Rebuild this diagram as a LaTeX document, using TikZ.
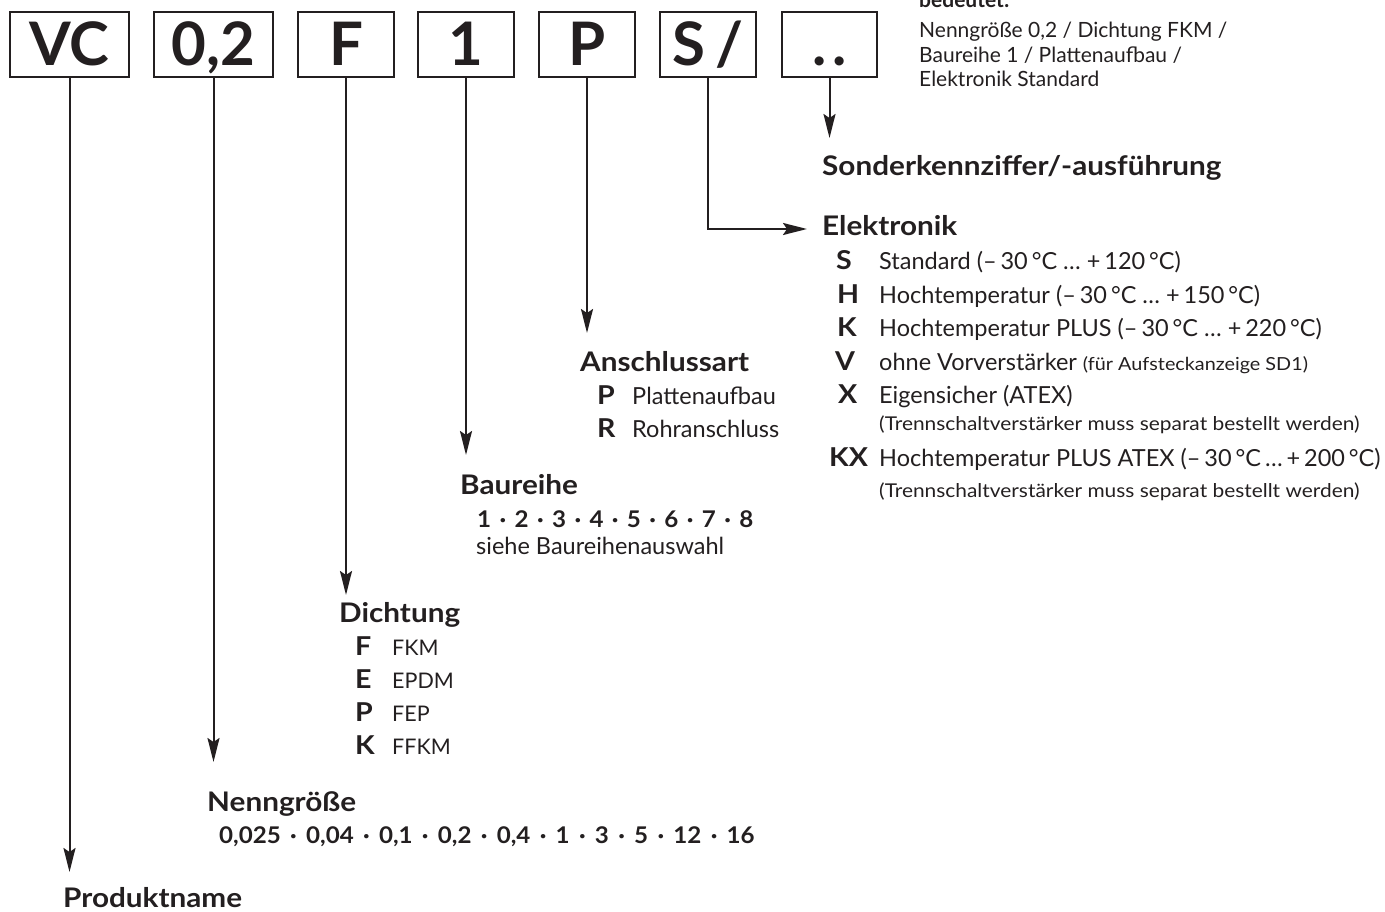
\documentclass[tikz,border=0pt]{standalone}
\usepackage{fontspec}
\setmainfont{Lato}
\newfontfamily\widefont{Lato}[FakeStretch=1.1]
\newfontfamily\semiwide{Lato}[FakeStretch=1.05]
\usetikzlibrary{arrows.meta}
\definecolor{ink}{HTML}{231F20}
\newcommand\sepdot{\hspace{9.3pt}·\hspace{9.3pt}}
\newcommand\sepdotb{\hspace{8.4pt}·\hspace{8.4pt}}
\begin{document}
\begin{tikzpicture}[x=1pt,y=-1pt,
  codebox/.style={draw=ink, text=ink, line width=2pt, minimum height=65pt, inner sep=0pt,
    text height=43pt, text depth=0pt, font=\bfseries\fontsize{60}{60}\selectfont},
  head/.style={anchor=base west, inner sep=0pt, text=ink, font=\widefont\bfseries\fontsize{27}{27}\selectfont},
  keyl/.style={anchor=base west, inner sep=0pt, text=ink, font=\widefont\bfseries\fontsize{26}{26}\selectfont},
  itemt/.style={anchor=base west, inner sep=0pt, text=ink, font=\fontsize{23.5}{23.5}\selectfont},
  dicht/.style={anchor=base west, inner sep=0pt, text=ink, font=\fontsize{21.5}{21.5}\selectfont},
  smallt/.style={anchor=base west, inner sep=0pt, text=ink, font=\widefont\fontsize{19}{19}\selectfont},
  valrow/.style={anchor=base west, inner sep=0pt, text=ink, font=\semiwide\bfseries\fontsize{23}{23}\selectfont},
  notet/.style={anchor=base west, inner sep=0pt, text=ink, font=\fontsize{21}{21}\selectfont},
  link/.style={draw=ink, line width=2pt, -{Stealth[length=24pt,width=12pt,inset=4pt]}}
]
\useasboundingbox (0,0) rectangle (1385,912);

% code boxes
\node[codebox, minimum width=119pt] (vc) at (69.5,44.5) {VC};
\node[codebox, minimum width=119pt] (nw) at (213.5,44.5) {0,2};
\node[codebox, minimum width=96pt] (dt) at (346,44.5) {F};
\node[codebox, minimum width=96pt] (br) at (466,44.5) {1};
\node[codebox, minimum width=96pt] (an) at (587,44.5) {P};
\node[codebox, minimum width=96pt] (el) at (708,44.5) {S\kern10pt/};
\node[codebox, minimum width=95pt] (sk) at (829.5,44.5) {.\kern5pt.};

% arrow end points
\coordinate (vcend) at (69.5,872);
\coordinate (nwend) at (213.5,762);
\coordinate (dtend) at (346,595);
\coordinate (brend) at (466,455);
\coordinate (anend) at (587,333);
\coordinate (elend) at (807,229);
\coordinate (skend) at (829.5,138);

\draw[link] (vc.south) -- (vcend);
\draw[link] (nw.south) -- (nwend);
\draw[link] (dt.south) -- (dtend);
\draw[link] (br.south) -- (brend);
\draw[link] (an.south) -- (anend);
\draw[link] (el.south) |- (elend);
\draw[link] (sk.south) -- (skend);

% top right note
\node[notet, font=\bfseries\fontsize{21}{21}\selectfont] (bed) at (919,8) {bedeutet:};
\node[notet] (n1) at (919,38) {Nenngröße 0,2 / Dichtung FKM /};
\node[notet] (n2) at (919,62.5) {Baureihe 1 / Plattenaufbau /};
\node[notet] (n3) at (919,87) {Elektronik Standard};

% Sonderkennziffer
\node[head] (skh) at (822,176) {Sonderkennziffer/-ausführung};

% Elektronik
\node[head] (elh) at (822,236) {Elektronik};
\node[keyl] (eS) at (836,270) {S};
\node[itemt] (eSt) at (879,270) {Standard (–\,30\,°C … +\,120\,°C)};
\node[keyl] (eH) at (837,303) {H};
\node[itemt] (eHt) at (879,303) {Hochtemperatur (–\,30\,°C … +\,150\,°C)};
\node[keyl] (eK) at (837,336) {K};
\node[itemt] (eKt) at (879,336) {Hochtemperatur PLUS (–\,30\,°C … +\,220\,°C)};
\node[keyl] (eV) at (835,370) {V};
\node[itemt] (eVt) at (879,370) {ohne Vorverstärker {\widefont\fontsize{18}{18}\selectfont(für Aufsteckanzeige SD1)}};
\node[keyl] (eX) at (838,403) {X};
\node[itemt] (eXt) at (879,403) {Eigensicher (ATEX)};
\node[smallt] (eXs) at (879,430) {(Trennschaltverstärker muss separat bestellt werden)};
\node[keyl] (eKX) at (829,466) {KX};
\node[itemt] (eKXt) at (879,466) {Hochtemperatur PLUS ATEX (–\,30\,°C\,…\,+\,200\,°C)};
\node[smallt] (eKXs) at (879,497) {(Trennschaltverstärker muss separat bestellt werden)};

% Anschlussart
\node[head] (anh) at (580,371) {Anschlussart};
\node[keyl] (aP) at (597,404) {P};
\node[itemt] (aPt) at (632,404) {Plattenaufbau};
\node[keyl] (aR) at (597,437) {R};
\node[itemt] (aRt) at (632,437) {Rohranschluss};

% Baureihe
\node[head] (brh) at (460,494) {Baureihe};
\node[valrow] (brv) at (477,527) {1\sepdotb 2\sepdotb 3\sepdotb 4\sepdotb 5\sepdotb 6\sepdotb 7\sepdotb 8};
\node[itemt] (brs) at (476,554) {siehe Baureihenauswahl};

% Dichtung
\node[head] (dth) at (339,622) {Dichtung};
\node[keyl] (dF) at (355,655) {F};
\node[dicht] (dFt) at (392,655) {FKM};
\node[keyl] (dE) at (355,688) {E};
\node[dicht] (dEt) at (392,688) {EPDM};
\node[keyl] (dP) at (355,721) {P};
\node[dicht] (dPt) at (392,721) {FEP};
\node[keyl] (dK) at (355,754) {K};
\node[dicht] (dKt) at (392,754) {FFKM};

% Nenngroesse
\node[head] (ngh) at (207,811) {Nenngröße};
\node[valrow] (ngv) at (219,843) {0,025\sepdot 0,04\sepdot 0,1\sepdot 0,2\sepdot 0,4\sepdot 1\sepdot 3\sepdot 5\sepdot 12\sepdot 16};

% Produktname
\node[head] (pnh) at (63,907) {Produktname};
\end{tikzpicture}
\end{document}
